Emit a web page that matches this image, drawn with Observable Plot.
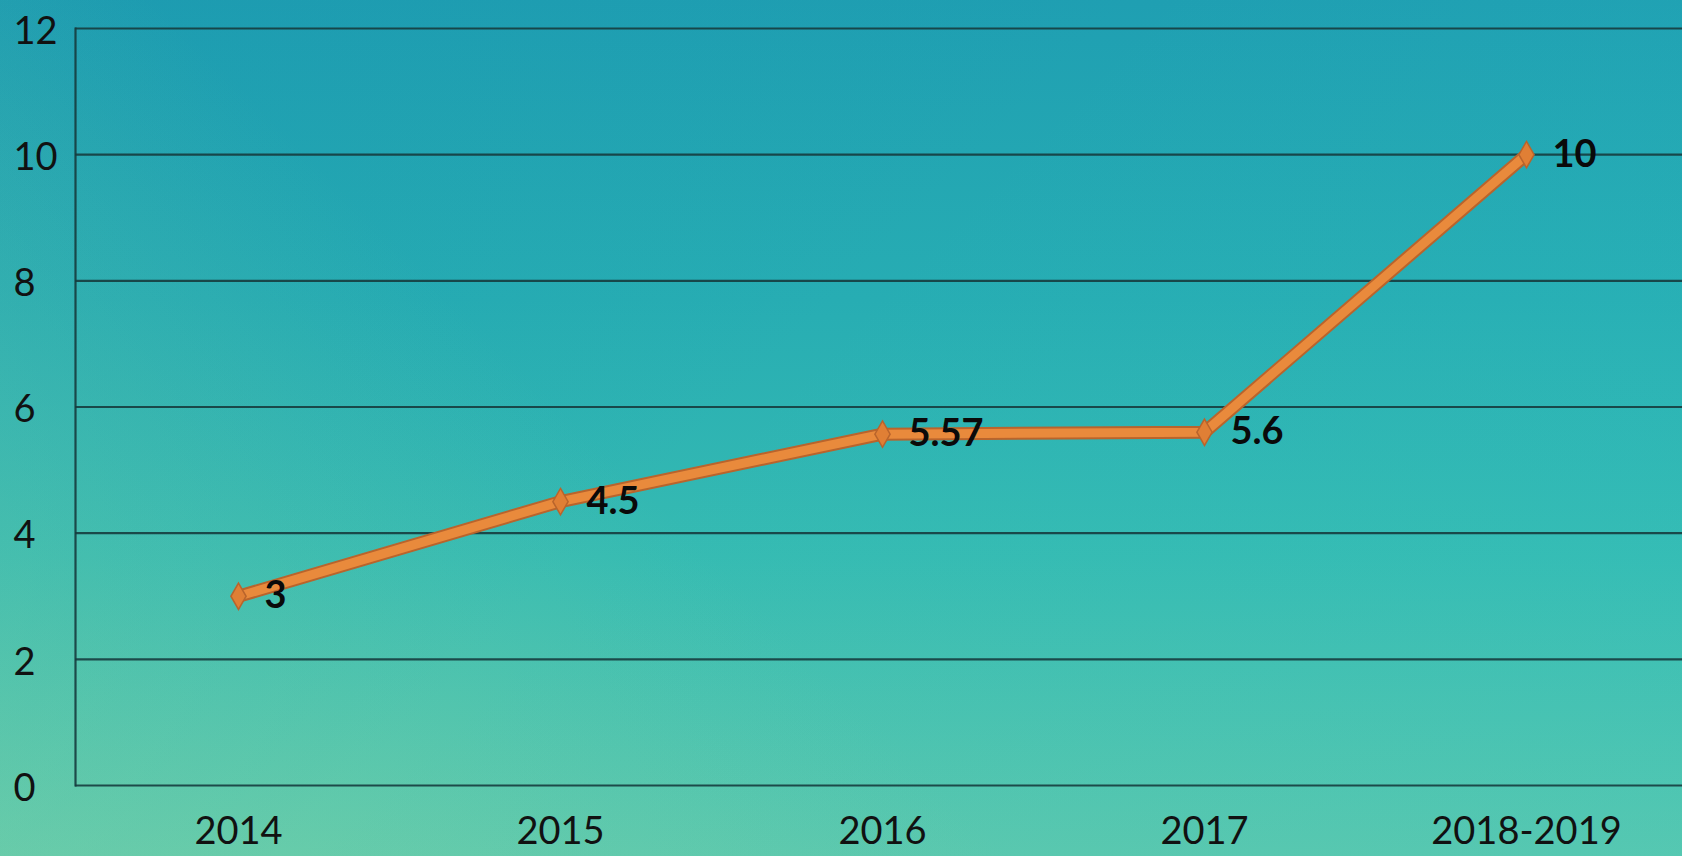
<!DOCTYPE html>
<html>
<head>
<meta charset="utf-8">
<script src="https://cdn.jsdelivr.net/npm/d3@7"></script>
<script src="https://cdn.jsdelivr.net/npm/@observablehq/plot@0.6"></script>
<style>
  html, body { margin: 0; padding: 0; }
  body {
    width: 1682px; height: 856px; overflow: hidden;
    background:
      linear-gradient(45deg, rgba(130,215,165,0.35) 0%, rgba(130,215,165,0) 40%),
      linear-gradient(135deg, rgba(20,140,170,0.2) 0%, rgba(20,140,170,0) 45%, rgba(50,200,200,0.2) 100%),
      linear-gradient(to bottom, #1f9fb2 0%, #27adb3 35%, #36bbb2 65%, #5ec8ac 100%);
  }
  #chart svg { display: block; background: transparent; }
</style>
</head>
<body>
<div id="chart"></div>
<script>
const categories = ["2014", "2015", "2016", "2017", "2018-2019"];
const values = [3, 4.5, 5.57, 5.6, 10];
const valueLabels = ["3", "4.5", "5.57", "5.6", "10"];
const yTicks = [0, 2, 4, 6, 8, 10, 12];

const data = categories.map((c, i) => ({cat: c, v: values[i], label: valueLabels[i]}));

const chart = Plot.plot({
  width: 1682,
  height: 856,
  marginTop: 28,
  marginBottom: 71,
  marginLeft: 75,
  marginRight: 0,
  style: {background: "transparent", fontFamily: "Lato, 'Open Sans', sans-serif"},
  x: {type: "point", domain: categories, range: [237, 1527], padding: 0, label: null},
  y: {domain: [0, 12], ticks: yTicks, label: null},
  marks: [
    Plot.ruleY(yTicks, {stroke: "#163c3e", strokeWidth: 2.2, strokeOpacity: 0.9}),
    Plot.frame({anchor: "left", stroke: "#163c3e", strokeWidth: 2.2, strokeOpacity: 0.9}),
    Plot.axisY({ticks: yTicks, tickSize: 0, tickPadding: 62, textAnchor: "start", fontSize: 38, fill: "#111", dy: 3, label: null}),
    Plot.axisX({tickSize: 0, tickPadding: 32, fontSize: 38, fill: "#111", label: null}),
    Plot.line(data, {x: "cat", y: "v", stroke: "#b9642c", strokeWidth: 13, strokeLinejoin: "miter"}),
    Plot.line(data, {x: "cat", y: "v", stroke: "#e98a3c", strokeWidth: 9, strokeLinejoin: "miter"}),
    Plot.dot(data, {x: "cat", y: "v", symbol: "diamond", r: 8, fill: "#e07f35", stroke: "#b9642c", strokeWidth: 1.5}),
    Plot.text(data, {x: "cat", y: "v", text: "label", dx: 26, textAnchor: "start", fontSize: 38, fontWeight: "bold", fill: "#0a0a0a"})
  ]
});
document.getElementById("chart").appendChild(chart);
</script>
</body>
</html>
